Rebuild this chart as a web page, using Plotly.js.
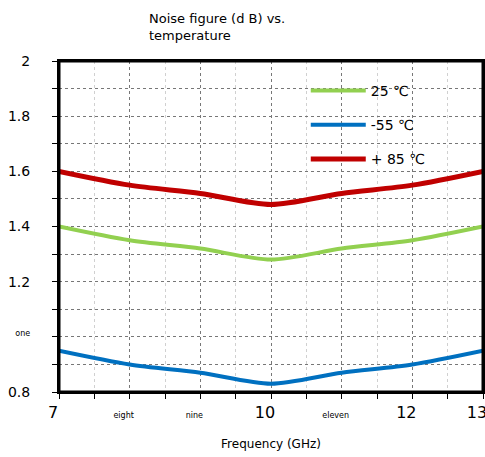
<!DOCTYPE html>
<html>
<head>
<meta charset="utf-8">
<script src="https://cdn.plot.ly/plotly-3.0.1.min.js"></script>
<style>html,body{margin:0;padding:0;background:#fff}#chart{width:485px;height:457px}</style>
</head>
<body>
<div id="chart"></div>
<script>
const freq = [7, 8, 9, 10, 11, 12, 13];
const nf25 = [1.40, 1.35, 1.32, 1.28, 1.32, 1.35, 1.40];
const nfMinus55 = [0.95, 0.90, 0.87, 0.83, 0.87, 0.90, 0.95];
const nfPlus85 = [1.60, 1.55, 1.52, 1.48, 1.52, 1.55, 1.60];
const seriesNames = ['25 ℃', '-55 ℃', '+ 85 ℃'];
const xTickVals = [7, 8, 9, 10, 11, 12, 13];
const xTickText = ['7', 'eight', 'nine', '10', 'eleven', '12', '13'];
const yTickVals = [0.8, 1.0, 1.2, 1.4, 1.6, 1.8, 2.0];
const yTickText = ['0.8', 'one', '1.2', '1.4', '1.6', '1.8', '2'];

const small = s => '<span style="font-size:8px">' + s + '</span>';
const isWord = s => /[a-z]/i.test(s);

const colors = ['#92D050', '#0070C0', '#C00000'];
const widths = [4, 4, 5];
const ys = [nf25, nfMinus55, nfPlus85];

const traces = ys.map((y, i) => ({
  x: freq, y: y, name: seriesNames[i], type: 'scatter', mode: 'lines',
  legendgroup: 'g' + i,
  line: {color: colors[i], width: widths[i], shape: 'spline', smoothing: 0.8}
}));

const layout = {
  width: 485, height: 457,
  margin: {l: 59, r: 2, t: 61, b: 65},
  paper_bgcolor: '#fff', plot_bgcolor: '#fff',
  font: {family: 'DejaVu Sans, sans-serif', color: '#000', size: 14},
  title: {
    text: 'Noise figure (d B) vs.<br>temperature',
    font: {size: 13, color: '#000'},
    xref: 'container', yref: 'container',
    x: 149/485, xanchor: 'left', y: 1 - 23/457, yanchor: 'top'
  },
  showlegend: true,
  legend: {
    x: 0.582, xanchor: 'left', y: 0.958, yanchor: 'top',
    bgcolor: 'rgba(0,0,0,0)', font: {size: 14, color: '#000'},
    tracegroupgap: 13, itemwidth: 55
  },
  shapes: [{
    type: 'rect', xref: 'paper', yref: 'paper', x0: 0, x1: 1, y0: 0, y1: 1,
    line: {color: '#000', width: 3}, fillcolor: 'rgba(0,0,0,0)', layer: 'above'
  }],
  xaxis: {
    range: [7, 13], autorange: false,
    tickmode: 'array', tickvals: xTickVals,
    ticktext: xTickText.map(t => isWord(t) ? small(t) : t),
    tickfont: {size: 16, color: '#000'},
    ticks: 'outside', ticklen: 5, tickwidth: 1, tickcolor: '#000',
    showline: true, mirror: true, linewidth: 2, linecolor: '#000',
    showgrid: true, gridcolor: '#777', griddash: 'dot', gridwidth: 1,
    zeroline: false, ticklabelshift: -6, ticklabeloverflow: 'allow',
    minor: {dtick: 0.5, ticks: 'outside', ticklen: 5, tickcolor: '#000',
            showgrid: true, gridcolor: '#d0d0d0', griddash: 'dot', gridwidth: 1},
    title: {text: 'Frequency (GHz)', font: {size: 12, color: '#000'}, standoff: 18},
    automargin: false
  },
  yaxis: {
    range: [0.8, 2.0], autorange: false,
    tickmode: 'array', tickvals: yTickVals,
    ticktext: yTickText.map(t => isWord(t) ? '<sup>' + small(t) + '</sup>' : t),
    tickfont: {size: 14, color: '#000'},
    ticks: 'outside', ticklen: 5, tickwidth: 1, tickcolor: '#000',
    showline: true, mirror: true, linewidth: 2, linecolor: '#000',
    showgrid: true, gridcolor: '#777', griddash: 'dot', gridwidth: 1,
    zeroline: false, ticklabelstandoff: 19,
    minor: {dtick: 0.1, ticks: 'outside', ticklen: 5, tickcolor: '#000',
            showgrid: true, gridcolor: '#777', griddash: 'dot', gridwidth: 1},
    automargin: false
  }
};

Plotly.newPlot('chart', traces, layout, {displayModeBar: false, staticPlot: true});
</script>
</body>
</html>
